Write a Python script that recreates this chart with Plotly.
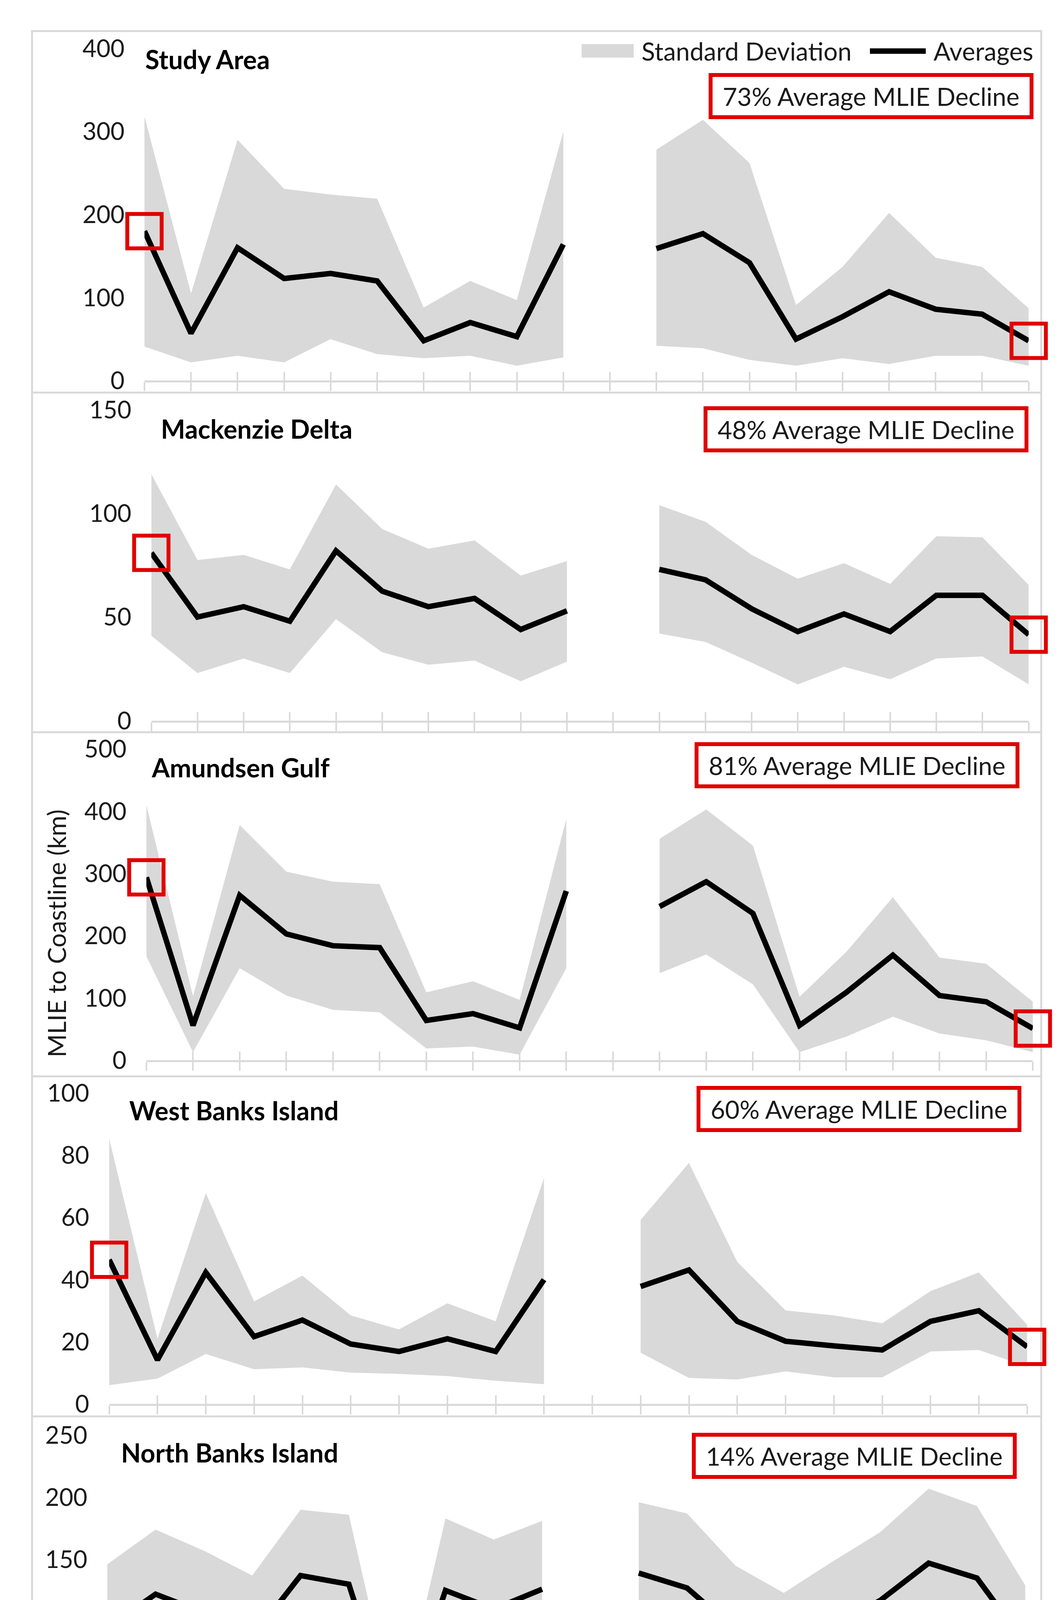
import plotly.graph_objects as go

W, H = 2720, 4803

years = list(range(2000, 2020))
year_labels = [str(y) for y in years]

# ---- data (km); None = no data for 2010 ----
study_avg   = [180, 57, 160, 123, 129, 120, 48, 70, 53, 164, None, 159, 177, 142, 50, 77, 107, 86, 80, 48]
study_upper = [318, 105, 290, 231, 224, 219, 88, 120, 97, 300, None, 278, 314, 262, 91, 137, 202, 148, 137, 87]
study_lower = [41, 22, 30, 22, 50, 32, 27, 30, 18, 28, None, 42, 39, 25, 18, 27, 20, 30, 30, 18]

mack_avg   = [81, 50, 55, 48, 82, 62.5, 55, 59, 44, 53, None, 73, 68, 54, 43, 51.5, 43, 60.5, 60.5, 41.5]
mack_upper = [119, 77.5, 80, 73, 114, 92.5, 83, 87, 70, 77, None, 104, 96, 80, 68.5, 76, 66, 89, 88.5, 65.5]
mack_lower = [41, 23, 30, 23, 49, 33, 27, 29, 19, 28.5, None, 42, 38, 28, 17.5, 26, 20, 30, 31, 17.5]

amund_avg   = [294, 56, 265, 203, 184, 181, 64, 75, 52, 272, None, 247, 287, 236, 56, 109, 169, 104, 94, 51]
amund_upper = [410, 103, 378, 303, 287, 283, 109, 127, 97, 388, None, 356, 403, 345, 102, 174, 262, 165, 155, 94]
amund_lower = [167, 13, 148, 104, 81, 77, 19, 22, 9, 148, None, 140, 170, 122, 13, 38, 70, 43, 32, 13]

west_avg   = [46.4, 14.2, 42.3, 21.7, 27, 19.3, 16.9, 21, 16.9, 40, None, 37.8, 43.1, 26.6, 20.2, 18.7, 17.4, 26.6, 30, 18.4]
west_upper = [85.4, 21, 67.8, 33, 41.3, 28.5, 24, 32.4, 26.6, 72.7, None, 59.2, 77.5, 45.7, 30.1, 28.5, 26, 36.3, 42.3, 25.5]
west_lower = [6.1, 8.2, 16.1, 11.2, 11.8, 10.1, 9.7, 9, 7.5, 6.4, None, 16.5, 8.4, 7.9, 10.5, 8.6, 8.6, 16.9, 17.4, 12]

north_avg   = [95, 122, 107, 87, 137, 130, 8, 125, 110, 126, None, 139, 127, 93, 75, 95, 117, 147, 135, 82]
north_upper = [146, 174, 157, 137, 190, 186, 15, 183, 166, 181, None, 196, 187, 145, 123, 148, 172, 207, 193, 129]
north_lower = [46, 68, 54, 35, 84, 73, 5, 67, 54, 73, None, 82, 68, 40, 28, 47, 62, 88, 79, 37]

region_names = ["Study Area", "Mackenzie Delta", "Amundsen Gulf", "West Banks Island", "North Banks Island"]
decline_labels = ["73% Average MLIE Decline", "48% Average MLIE Decline", "81% Average MLIE Decline",
                  "60% Average MLIE Decline", "14% Average MLIE Decline"]
y_max = [400, 150, 500, 100, 250]
y_dtick = [100, 50, 100, 20, 50]

series = [
    (study_avg, study_upper, study_lower),
    (mack_avg, mack_upper, mack_lower),
    (amund_avg, amund_upper, amund_lower),
    (west_avg, west_upper, west_lower),
    (north_avg, north_upper, north_lower),
]

# ---- layout geometry (pixels) ----
# x pixel of 2000 / 2019 ticks, y pixel of 0 and of top value
geom = [
    (330, 2658, 942, 78),
    (348, 2658, 1826, 1018),
    (335, 2669, 2709, 1900),
    (237, 2654, 3603, 2794),
    (232, 2649, 4491, 3684),
]
title_pos = [(330, 106), (371, 1067), (346, 1948), (288, 2839), (266, 3729)]
box_pos = [(2243, 202), (2230, 1068), (2206, 1942), (2211, 2836), (2199, 3738)]
dividers = [33, 973, 1856, 2751, 3635, 4772]

FONT = "Lato"
GRAY = "#D9D9D9"
RED = "#E00000"
TXT = "#1a1a1a"


def px(p):
    return p / W


def py(p):
    return 1 - p / H


def segments(xs, ys_list):
    segs, cur = [], []
    for i, x in enumerate(xs):
        if any(ys[i] is None for ys in ys_list):
            if cur:
                segs.append(cur)
            cur = []
        else:
            cur.append(i)
    if cur:
        segs.append(cur)
    return segs


fig = go.Figure()
shapes = []
annotations = []

for k in range(5):
    avg, up, lo = series[k]
    n = k + 1
    xa = "x" if n == 1 else f"x{n}"
    ya = "y" if n == 1 else f"y{n}"
    # standard deviation band (one polygon per continuous segment)
    for seg in segments(years, [up, lo]):
        bx = [years[i] for i in seg] + [years[i] for i in reversed(seg)]
        by = [up[i] for i in seg] + [lo[i] for i in reversed(seg)]
        fig.add_trace(go.Scatter(x=bx, y=by, fill="toself", fillcolor=GRAY,
                                 line=dict(width=0, color=GRAY), mode="lines",
                                 hoverinfo="skip", showlegend=False,
                                 name="Standard Deviation", xaxis=xa, yaxis=ya))
    # averages line
    fig.add_trace(go.Scatter(x=years, y=avg, mode="lines", connectgaps=False,
                             line=dict(color="black", width=14),
                             showlegend=False, name="Averages", xaxis=xa, yaxis=ya))
    # red squares highlighting first and last average
    ends = [0, len(years) - 1]
    fig.add_trace(go.Scatter(x=[years[i] for i in ends], y=[avg[i] for i in ends],
                             mode="markers", cliponaxis=False, hoverinfo="skip",
                             marker=dict(symbol="square-open", size=88, color=RED,
                                         line=dict(color=RED, width=10)),
                             showlegend=False, name="Start / end", xaxis=xa, yaxis=ya))

    x0p, x1p, y0p, ytp = geom[k]
    xdom = [px(x0p), px(x1p)]
    ydom = [py(y0p), py(ytp)]
    last = (k == 4)
    xdict = dict(domain=xdom, range=[2000, 2019], anchor=ya,
                 tickmode="array", tickvals=years, ticktext=year_labels,
                 showticklabels=last, tickangle=-90,
                 tickfont=dict(family=FONT, size=62, color=TXT),
                 ticks="outside", ticklen=22, tickwidth=4, tickcolor=GRAY,
                 showline=True, linecolor=GRAY, linewidth=5,
                 showgrid=False, zeroline=False, fixedrange=True)
    if last:
        xdict["title"] = dict(text="Years (May 4th)", standoff=8,
                              font=dict(family=FONT, size=64, color=TXT))
    ydict = dict(domain=ydom, range=[0, y_max[k]], anchor=xa, dtick=y_dtick[k],
                 tick0=0, showline=False, ticks="", showgrid=False, zeroline=False,
                 tickfont=dict(family=FONT, size=62, color=TXT),
                 ticklabelstandoff=50, fixedrange=True)
    fig.layout["xaxis" if n == 1 else f"xaxis{n}"] = xdict
    fig.layout["yaxis" if n == 1 else f"yaxis{n}"] = ydict
    # overlay axis for the upper half of the crossing tick marks
    fig.layout[f"xaxis{n + 5}"] = dict(domain=xdom, range=[2000, 2019], anchor=ya,
                                       overlaying=xa, tickmode="array", tickvals=years,
                                       showticklabels=False, ticks="inside", ticklen=22,
                                       tickwidth=4, tickcolor=GRAY, showline=False,
                                       showgrid=False, zeroline=False, fixedrange=True)
    fig.add_trace(go.Scatter(x=[2000, 2019], y=[None, None], mode="lines",
                             showlegend=False, hoverinfo="skip",
                             xaxis=f"x{n + 5}", yaxis=ya))

    # panel title
    tx, ty = title_pos[k]
    annotations.append(dict(xref="paper", yref="paper", x=px(tx), y=py(ty),
                            xanchor="left", yanchor="middle", showarrow=False,
                            text=f"<b>{region_names[k]}</b>",
                            font=dict(family=FONT, size=66, color="black")))
    # decline box
    bx_, by_ = box_pos[k]
    annotations.append(dict(xref="paper", yref="paper", x=px(bx_), y=py(by_),
                            xanchor="center", yanchor="middle", showarrow=False,
                            text=decline_labels[k], width=808, height=94, borderpad=2,
                            bordercolor=RED, borderwidth=10, bgcolor="white",
                            font=dict(family=FONT, size=64, color=TXT)))

# panel frames
shapes.append(dict(type="rect", xref="paper", yref="paper", x0=px(34), x1=px(2691),
                   y0=py(dividers[-1]), y1=py(dividers[0]), line=dict(color=GRAY, width=5),
                   layer="below"))
for d in dividers[1:-1]:
    shapes.append(dict(type="line", xref="paper", yref="paper", x0=px(34), x1=px(2691),
                       y0=py(d), y1=py(d), line=dict(color=GRAY, width=5), layer="below"))

# legend (top right)
shapes.append(dict(type="rect", xref="paper", yref="paper", x0=px(1481), x1=px(1618),
                   y0=py(102), y1=py(67), fillcolor=GRAY, line=dict(width=0)))
shapes.append(dict(type="line", xref="paper", yref="paper", x0=px(2240), x1=px(2387),
                   y0=py(85), y1=py(85), line=dict(color="black", width=14)))
annotations.append(dict(xref="paper", yref="paper", x=px(1637), y=py(85), xanchor="left",
                        yanchor="middle", showarrow=False, text="Standard Deviation",
                        font=dict(family=FONT, size=64, color=TXT)))
annotations.append(dict(xref="paper", yref="paper", x=px(2405), y=py(85), xanchor="left",
                        yanchor="middle", showarrow=False, text="Averages",
                        font=dict(family=FONT, size=64, color=TXT)))

# y-axis title
annotations.append(dict(xref="paper", yref="paper", x=px(98), y=py(2379), xanchor="center",
                        yanchor="middle", showarrow=False, text="MLIE to Coastline (km)",
                        textangle=-90, font=dict(family=FONT, size=64, color=TXT)))

fig.update_layout(width=W, height=H, margin=dict(l=0, r=0, t=0, b=0),
                  paper_bgcolor="white", plot_bgcolor="white",
                  shapes=shapes, annotations=annotations, showlegend=False)

fig.write_html("out.html")
